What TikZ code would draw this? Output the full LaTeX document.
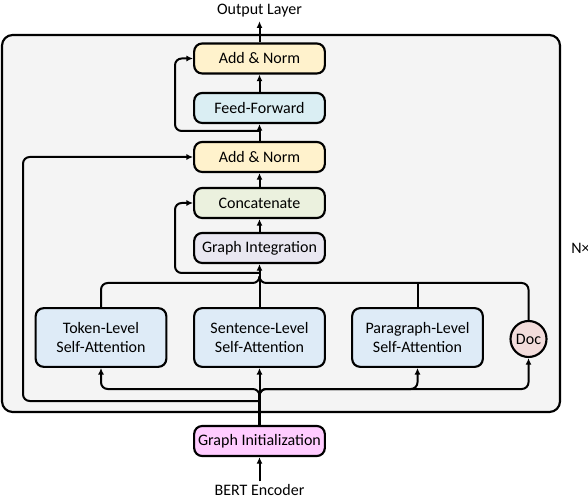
\documentclass[tikz,border=0pt]{standalone}
\usepackage{fontspec}
\setmainfont{Carlito}
\usetikzlibrary{arrows.meta}
\definecolor{bgray}{HTML}{F4F4F4}
\definecolor{normc}{HTML}{FFF2CC}
\definecolor{ffc}{HTML}{DAEEF3}
\definecolor{catc}{HTML}{EBF1DE}
\definecolor{gic}{HTML}{E9E7F1}
\definecolor{attc}{HTML}{DEEBF7}
\definecolor{docc}{HTML}{F2DCDB}
\definecolor{initc}{HTML}{FFCCFF}

\begin{document}
\begin{tikzpicture}[x=0.75pt,y=-0.75pt,
    font=\fontsize{12}{14}\selectfont,
    box/.style={draw,line width=1.6pt,rounded corners=6pt,minimum width=98pt,minimum height=22.5pt,inner sep=1pt},
    att/.style={box,minimum height=44pt,align=center,fill=attc},
    conn/.style={line width=1.5pt,rounded corners=5pt,-{Latex[length=5pt,width=4.5pt]}}]
      \useasboundingbox(0,0)rectangle(588,498);
      \draw[fill=bgray,line width=1.6pt,rounded corners=8pt](2,35)rectangle(560,412);
      % blocks
      \node[box,fill=normc](AN2)at(259.5,58.5){Add \& Norm};
      \node[box,fill=ffc](FF)at(259.5,108){Feed-Forward};
      \node[box,fill=normc](AN1)at(259.5,157){Add \& Norm};
      \node[box,fill=catc](CC)at(259.5,203){Concatenate};
      \node[box,fill=gic](GI)at(259.5,248){Graph Integration};
      \node[att](TL)at(101,337.5){Token-Level\\Self-Attention};
      \node[att](SL)at(259.5,337.5){Sentence-Level\\Self-Attention};
      \node[att](PL)at(417.5,337.5){Paragraph-Level\\Self-Attention};
      \node[draw,circle,line width=1.6pt,fill=docc,minimum size=27pt,inner sep=0pt](DC)at(528.5,339){Doc};
      \node[box,fill=initc](GN)at(259.5,441){Graph Initialization};
      \node[inner sep=3pt](OL)at(259.5,10.5){Output Layer};
      \node[inner sep=2pt](BE)at(259.5,490){BERT Encoder};
      \node[anchor=west,inner sep=0pt](NX)at(571,248){N×};
      \coordinate(R1)at(259.5,131);\coordinate(R2)at(259.5,273);
      \coordinate(B1)at(259.5,283);\coordinate(B2)at(259.5,389);
      \coordinate(S1)at(259.5,394);\coordinate(S2)at(259.5,401);
      % upper stack
      \draw[conn](AN2)--(OL);
      \draw[conn](FF)--(AN2);
      \draw[conn](AN1)--(FF);
      \draw[conn](CC)--(AN1);
      \draw[conn](GI)--(CC);
      \draw[conn](R1)--(175,131)|-(AN2.west);
      \draw[conn](R2)--(175,273)|-(CC.west);
      % attention outputs
      \draw[line width=1.5pt,rounded corners=5pt](TL.north)|-(B1)--(259.5,277);
      \draw[line width=1.5pt,rounded corners=5pt](DC.north)|-(B1)--(259.5,277);
      \draw[line width=1.5pt](PL.north)--(PL.north|-B1);
      \draw[conn](SL.north)--(GI.south);
      % inputs
      \draw[conn](BE)--(GN);
      \draw[line width=2.4pt](GN.north)--(S1);
      \draw[conn](S1)--(SL.south);
      \foreach \N in{TL,PL,DC}{
        \draw[conn](S1)--(B2)-|(\N.south);
      }
      \draw[conn](S2)--++(-236.5,0)|-(AN1.west);
    \end{tikzpicture}
\end{document}
